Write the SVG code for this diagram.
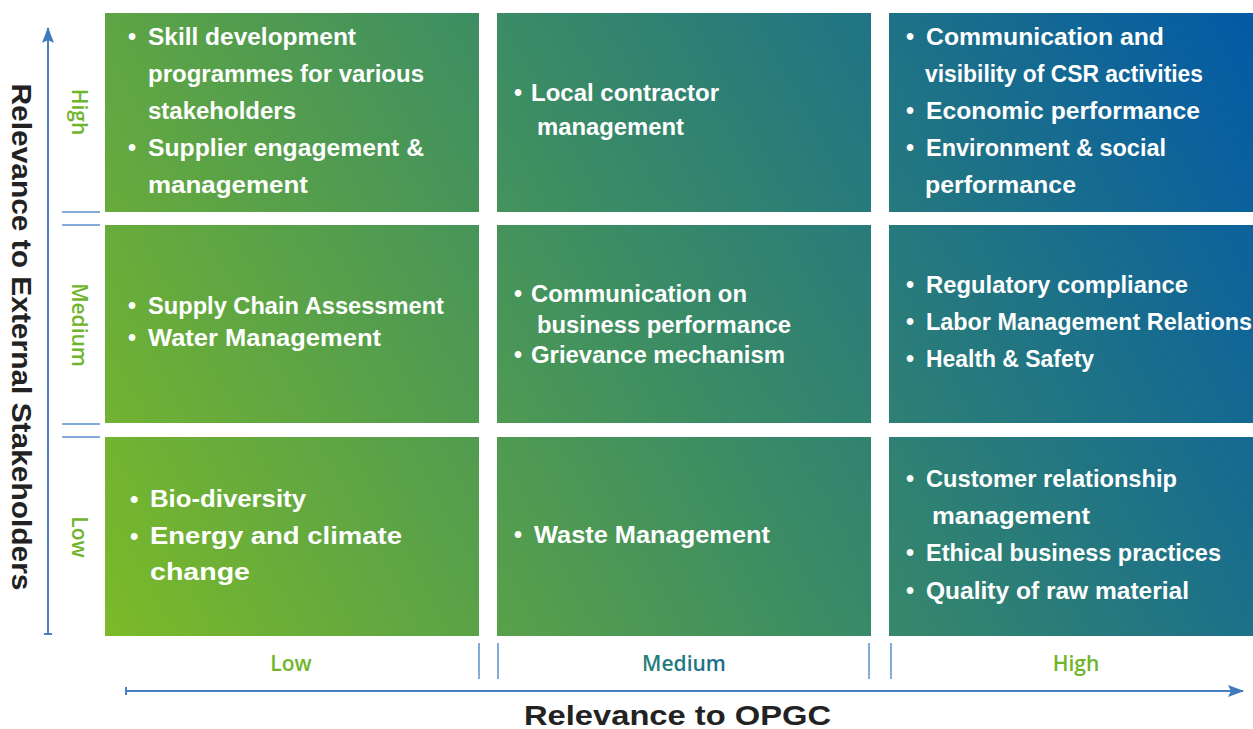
<svg xmlns="http://www.w3.org/2000/svg" width="1253" height="729" viewBox="0 0 1253 729">
<defs>
<linearGradient id="grid" gradientUnits="userSpaceOnUse" x1="105" y1="636" x2="1253" y2="13">
<stop offset="0" stop-color="#7cba28"/>
<stop offset="0.5" stop-color="#3a8b66"/>
<stop offset="1" stop-color="#035aa6"/>
</linearGradient>
<linearGradient id="medtxt" x1="0" y1="0" x2="1" y2="0">
<stop offset="0" stop-color="#2b8075"/>
<stop offset="1" stop-color="#1a6b90"/>
</linearGradient>
<marker id="arr" viewBox="0 0 16 12" refX="15" refY="6" markerWidth="16" markerHeight="12" markerUnits="userSpaceOnUse" orient="auto">
<path d="M0,0 L16,6 L0,12 L3,6 Z" fill="#3f78bd"/>
</marker>
<style>
.cell{fill:url(#grid)}
.t{font-family:"Liberation Sans",Arial,sans-serif;font-weight:bold;font-size:23px;fill:#ffffff}
.ax{stroke:#4a80c2;stroke-width:2;fill:none}
.tk{stroke:#5b8fcc;stroke-width:1.5;fill:none}
.lvl{font-family:"Open Sans","Noto Sans",sans-serif;font-weight:600;font-size:21px;fill:#6fb52c}
.ttl{font-family:"Liberation Sans",Arial,sans-serif;font-weight:bold;font-size:28px;fill:#222222}
</style>
</defs>
<rect width="1253" height="729" fill="#ffffff"/>

<g id="axes">
<line class="ax" x1="48" y1="634" x2="48" y2="28" marker-end="url(#arr)"/>
<line class="ax" x1="44" y1="634" x2="52" y2="634"/>
<line class="ax" x1="126" y1="691" x2="1243" y2="691" marker-end="url(#arr)"/>
<line class="ax" x1="126" y1="687" x2="126" y2="695"/>
<line class="tk" x1="62" y1="212" x2="100" y2="212"/>
<line class="tk" x1="62" y1="225" x2="100" y2="225"/>
<line class="tk" x1="62" y1="424" x2="100" y2="424"/>
<line class="tk" x1="62" y1="437" x2="100" y2="437"/>
<line class="tk" x1="479" y1="643" x2="479" y2="679"/>
<line class="tk" x1="498" y1="643" x2="498" y2="679"/>
<line class="tk" x1="869" y1="643" x2="869" y2="679"/>
<line class="tk" x1="891" y1="643" x2="891" y2="679"/>
</g>

<g id="axis-labels">
<text class="ttl" transform="translate(12,337) rotate(90)" text-anchor="middle" textLength="507" lengthAdjust="spacingAndGlyphs">Relevance to External Stakeholders</text>
<text class="ttl" x="524" y="725" textLength="307" lengthAdjust="spacingAndGlyphs">Relevance to OPGC</text>
<text class="lvl" transform="translate(72,112) rotate(90)" text-anchor="middle">High</text>
<text class="lvl" transform="translate(72,325) rotate(90)" text-anchor="middle">Medium</text>
<text class="lvl" transform="translate(72,537) rotate(90)" text-anchor="middle">Low</text>
<text class="lvl" x="291" y="671" text-anchor="middle">Low</text>
<text class="lvl" x="684" y="671" text-anchor="middle" style="fill:url(#medtxt)">Medium</text>
<text class="lvl" x="1076" y="671" text-anchor="middle">High</text>
</g>

<g id="cell-high-low">
<rect class="cell" x="105" y="13" width="374" height="199"/>
<text class="t" x="128" y="44.5">•</text>
<text class="t" x="148" y="44.5" textLength="208" lengthAdjust="spacingAndGlyphs">Skill development</text>
<text class="t" x="148" y="82" textLength="276" lengthAdjust="spacingAndGlyphs">programmes for various</text>
<text class="t" x="148" y="119" textLength="148" lengthAdjust="spacingAndGlyphs">stakeholders</text>
<text class="t" x="128" y="156">•</text>
<text class="t" x="148" y="156" textLength="276" lengthAdjust="spacingAndGlyphs">Supplier engagement &amp;</text>
<text class="t" x="148" y="193" textLength="160" lengthAdjust="spacingAndGlyphs">management</text>
</g>

<g id="cell-high-medium">
<rect class="cell" x="497" y="13" width="374" height="199"/>
<text class="t" x="514" y="101">•</text>
<text class="t" x="531" y="101" textLength="188" lengthAdjust="spacingAndGlyphs">Local contractor</text>
<text class="t" x="537" y="135" textLength="147" lengthAdjust="spacingAndGlyphs">management</text>
</g>

<g id="cell-high-high">
<rect class="cell" x="889" y="13" width="364" height="199"/>
<text class="t" x="906" y="44.5">•</text>
<text class="t" x="926" y="44.5" textLength="238" lengthAdjust="spacingAndGlyphs">Communication and</text>
<text class="t" x="925" y="82" textLength="278" lengthAdjust="spacingAndGlyphs">visibility of CSR activities</text>
<text class="t" x="906" y="119">•</text>
<text class="t" x="926" y="119" textLength="274" lengthAdjust="spacingAndGlyphs">Economic performance</text>
<text class="t" x="906" y="156">•</text>
<text class="t" x="926" y="156" textLength="240" lengthAdjust="spacingAndGlyphs">Environment &amp; social</text>
<text class="t" x="925" y="193" textLength="151" lengthAdjust="spacingAndGlyphs">performance</text>
</g>

<g id="cell-medium-low">
<rect class="cell" x="105" y="225" width="374" height="198"/>
<text class="t" x="128" y="314">•</text>
<text class="t" x="148" y="314" textLength="296" lengthAdjust="spacingAndGlyphs">Supply Chain Assessment</text>
<text class="t" x="128" y="346">•</text>
<text class="t" x="148" y="346" textLength="233" lengthAdjust="spacingAndGlyphs">Water Management</text>
</g>

<g id="cell-medium-medium">
<rect class="cell" x="497" y="225" width="374" height="198"/>
<text class="t" x="514" y="302">•</text>
<text class="t" x="531" y="302" textLength="216" lengthAdjust="spacingAndGlyphs">Communication on</text>
<text class="t" x="537" y="333" textLength="254" lengthAdjust="spacingAndGlyphs">business performance</text>
<text class="t" x="514" y="363">•</text>
<text class="t" x="531" y="363" textLength="254" lengthAdjust="spacingAndGlyphs">Grievance mechanism</text>
</g>

<g id="cell-medium-high">
<rect class="cell" x="889" y="225" width="364" height="198"/>
<text class="t" x="906" y="293">•</text>
<text class="t" x="926" y="293" textLength="262" lengthAdjust="spacingAndGlyphs">Regulatory compliance</text>
<text class="t" x="906" y="330">•</text>
<text class="t" x="926" y="330" textLength="326" lengthAdjust="spacingAndGlyphs">Labor Management Relations</text>
<text class="t" x="906" y="367">•</text>
<text class="t" x="926" y="367" textLength="168" lengthAdjust="spacingAndGlyphs">Health &amp; Safety</text>
</g>

<g id="cell-low-low">
<rect class="cell" x="105" y="437" width="374" height="199"/>
<text class="t" x="130" y="507" style="font-size:24px">•</text>
<text class="t" x="150" y="507" style="font-size:24px" textLength="156" lengthAdjust="spacingAndGlyphs">Bio-diversity</text>
<text class="t" x="130" y="544" style="font-size:24px">•</text>
<text class="t" x="150" y="544" style="font-size:24px" textLength="252" lengthAdjust="spacingAndGlyphs">Energy and climate</text>
<text class="t" x="150" y="580" style="font-size:24px" textLength="100" lengthAdjust="spacingAndGlyphs">change</text>
</g>

<g id="cell-low-medium">
<rect class="cell" x="497" y="437" width="374" height="199"/>
<text class="t" x="514" y="543">•</text>
<text class="t" x="534" y="543" textLength="236" lengthAdjust="spacingAndGlyphs">Waste Management</text>
</g>

<g id="cell-low-high">
<rect class="cell" x="889" y="437" width="364" height="199"/>
<text class="t" x="906" y="487">•</text>
<text class="t" x="926" y="487" textLength="251" lengthAdjust="spacingAndGlyphs">Customer relationship</text>
<text class="t" x="932" y="524" textLength="158" lengthAdjust="spacingAndGlyphs">management</text>
<text class="t" x="906" y="561">•</text>
<text class="t" x="926" y="561" textLength="295" lengthAdjust="spacingAndGlyphs">Ethical business practices</text>
<text class="t" x="906" y="599">•</text>
<text class="t" x="926" y="599" textLength="263" lengthAdjust="spacingAndGlyphs">Quality of raw material</text>
</g>
</svg>
